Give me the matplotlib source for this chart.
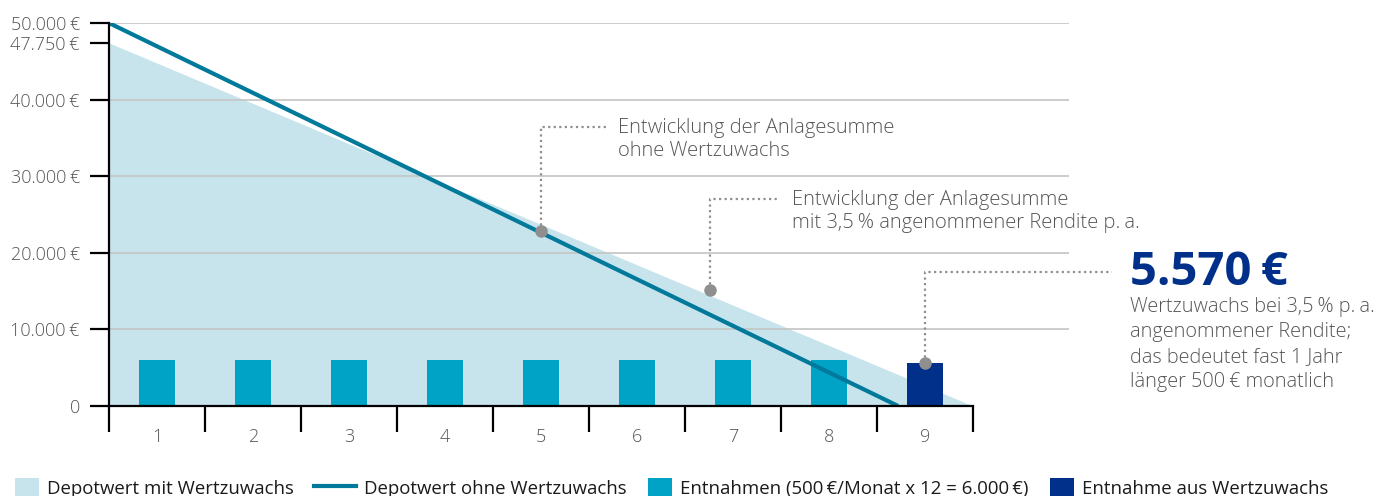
import matplotlib
matplotlib.use('Agg')
from matplotlib import pyplot as plt
from matplotlib.patches import Patch
from matplotlib.lines import Line2D

# --- data -------------------------------------------------------------
years = [1, 2, 3, 4, 5, 6, 7, 8, 9]
withdrawals = [6000, 6000, 6000, 6000, 6000, 6000, 6000, 6000]   # years 1-8
gain_withdrawal = 5570                                            # year 9

with_growth_x = [0, 9.0]
with_growth_y = [47400, 0]          # where the shaded area starts in the picture
without_growth_x = [0, 8.22]
without_growth_y = [50000, 0]

ytick_values = [0, 10000, 20000, 30000, 40000, 47400, 50000]
ytick_labels = ['0', '10.000\u2009€', '20.000\u2009€', '30.000\u2009€',
                '40.000\u2009€', '47.750\u2009€', '50.000\u2009€']

legend_labels = ['Depotwert mit Wertzuwachs', 'Depotwert ohne Wertzuwachs',
                 'Entnahmen (500\u2009€/Monat x 12 = 6.000\u2009€)',
                 'Entnahme aus Wertzuwachs']

note_without = ['Entwicklung der Anlagesumme', 'ohne Wertzuwachs']
note_with = ['Entwicklung der Anlagesumme',
             'mit 3,5\u2009% angenommener Rendite p.\u2009a.']
gain_label = '5.570\u2009€'
gain_note = ['Wertzuwachs bei 3,5\u2009% p.\u2009a.', 'angenommener Rendite;',
             'das bedeutet fast 1 Jahr', 'länger 500\u2009€ monatlich']

# colours
c_fill = '#c7e4ec'
c_line = '#00799a'
c_bar = '#00a2c5'
c_navy = '#003089'
c_grid = '#c4c4c4'
c_text = '#555555'
c_dot = '#8f8f8f'

plt.rcParams['font.family'] = ['Open Sans', 'DejaVu Sans']
LIGHT = 'light'

W, H = 1393, 496
fig = plt.figure(figsize=(W / 100, H / 100), dpi=100)
ax = fig.add_axes([109 / W, 90 / H, 960 / W, 383 / H])
ax.set_xlim(0, 10)
ax.set_ylim(0, 50000)

# gridlines
for v in [10000, 20000, 30000, 40000, 50000]:
    ax.axhline(v, color=c_grid, lw=1.2, zorder=1.5)

ax.fill_between(with_growth_x, with_growth_y, 0, color=c_fill, lw=0, zorder=1)

bar_x = [y - 0.5 for y in years]
ax.bar(bar_x[:8], withdrawals, width=0.38, color=c_bar, zorder=2)
ax.bar(bar_x[8], gain_withdrawal, width=0.38, color=c_navy, zorder=2)

ax.plot(without_growth_x, without_growth_y, color=c_line, lw=3, zorder=3,
        solid_capstyle='butt')

# callouts: point, elbow height, elbow end
dot_style = dict(color=c_dot, ls=(0, (1, 1.5)), lw=1.6, zorder=4, clip_on=False)
callouts = [
    (4.5, 22850, 36420, 5.2),
    (6.26, 15140, 27020, 6.97),
    (8.5, 5570, 17490, 10.45),
]
for px, py, ey, ex in callouts:
    ax.plot([px, px, ex], [py, ey, ey], **dot_style)
    ax.plot(px, py, 'o', color=c_dot, ms=8, zorder=5, clip_on=False)


def text_lines(x, y0, step, lines, **kw):
    # one text per line, placed on its baseline
    for i, line in enumerate(lines):
        ax.text(x, y0 - i * step, line, va='baseline', ha='left',
                clip_on=False, **kw)


note_kw = dict(fontsize=14.5, fontweight=LIGHT, color=c_text)
text_lines(5.3, 35640, 3000, note_without, **note_kw)
text_lines(7.11, 26240, 3000, note_with, **note_kw)
ax.text(10.64, 15800, gain_label, fontsize=34, fontweight='bold',
        color=c_navy, va='baseline', ha='left', clip_on=False)
text_lines(10.64, 12270, 3260, gain_note, fontsize=14.3, fontweight=LIGHT,
           color=c_text)

# axes styling
for s in ['top', 'right']:
    ax.spines[s].set_visible(False)
ax.spines['left'].set_bounds(0, 50000)
ax.spines['bottom'].set_bounds(0, 9)
for s in ['left', 'bottom']:
    ax.spines[s].set_linewidth(1.6)
    ax.spines[s].set_zorder(6)

ax.set_yticks(ytick_values)
ax.set_yticklabels(ytick_labels)
ax.tick_params(axis='y', length=14, width=1.6, pad=7, labelsize=13,
               labelcolor=c_text)

ax.set_xticks(range(0, 10))
ax.set_xticklabels([])
ax.set_xticks(bar_x, minor=True)
ax.set_xticklabels([str(y) for y in years], minor=True)
ax.tick_params(axis='x', which='major', length=19, width=1.6)
ax.tick_params(axis='x', which='minor', length=0, pad=16, labelsize=13,
               labelcolor=c_text)
for lab in ax.get_yticklabels() + ax.get_xticklabels(minor=True):
    lab.set_fontweight(LIGHT)

# legend: one entry per legend so the columns sit where they do in the original
handles = [
    Patch(facecolor=c_fill, edgecolor='none'),
    Line2D([], [], color=c_line, lw=3),
    Patch(facecolor=c_bar, edgecolor='none'),
    Patch(facecolor=c_navy, edgecolor='none'),
]
leg_x = [15, 314, 648, 1050]
for h, lab, lx in zip(handles, legend_labels, leg_x):
    is_line = isinstance(h, Line2D)
    fig.legend([h], [lab], loc='center left',
               bbox_to_anchor=(lx / W, 1 - 488 / H), frameon=False,
               fontsize=13.4, borderpad=0, borderaxespad=0,
               handlelength=2.25 if is_line else 1.27,
               handleheight=1.27, handletextpad=0.45,
               labelcolor='#1a1a1a')

fig.savefig('out.png', dpi=100)
